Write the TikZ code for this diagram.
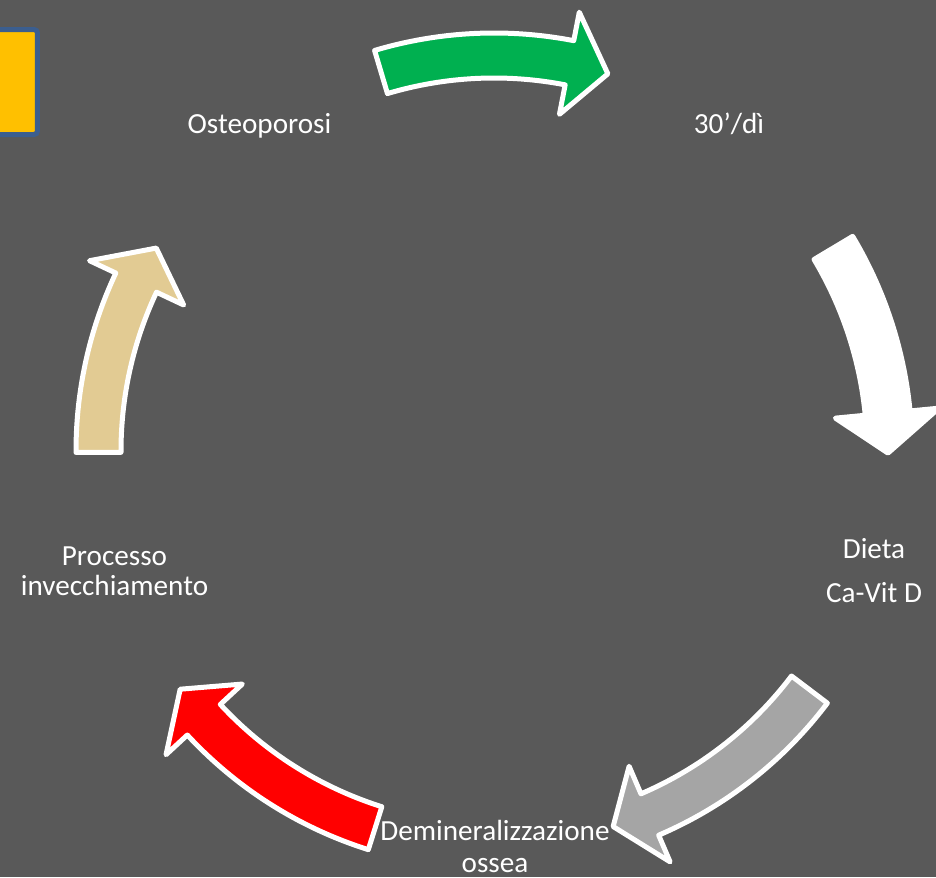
\documentclass[tikz,border=0pt]{standalone}
\usepackage{fontspec}
\setmainfont{Carlito}
\usetikzlibrary{calc}
\definecolor{slide}{HTML}{595959}
\definecolor{boxyellow}{HTML}{FFC000}
\definecolor{boxblue}{HTML}{3B5E8F}
\definecolor{arrgreen}{HTML}{00B050}
\definecolor{arrgray}{HTML}{A5A5A5}
\definecolor{arrred}{HTML}{FF0000}
\definecolor{arrtan}{HTML}{E2CB93}
\def\cyclearrow[#1](#2:#3:#4){\draw[#1] (#2:373) arc[start angle=#2, end angle=#3, radius=373] -- (#3:343) -- (#4:394) -- (#3:447) -- (#3:418) arc[start angle=#3, end angle=#2, radius=418] -- cycle;}
\tikzset{
	cyc/.style={draw=white, line width=0.1cm, line join=round},
	lbl/.style={text=white, align=center, inner sep=0pt, anchor=base, font=\fontsize{16.6}{17}\selectfont}
}

\begin{document}
\begin{tikzpicture}[x=0.02cm, y=0.02cm]
			%%%%% START %%%%%
			
			\fill[slide] (-494, 451) rectangle (442, -426);
			\useasboundingbox (-494, 451) rectangle (442, -426);
			
			\draw[fill=boxyellow, draw=boxblue, line width=0.1cm, rounded corners=2] (-504, 421.5) rectangle (-456.5, 316.5);
			
			\node[lbl] (osteo) at (-234.5, 318) {Osteoporosi};
			\node[lbl] (trenta) at (235, 318) {30’/dì};
			\node[lbl] (dieta) at (380, -151) {Dieta\\[8pt]Ca-Vit D};
			\node[lbl] (demin) at (1, -421) {Demineralizzazione\\[1pt]ossea};
			\node[lbl] (processo) at (-379.5, -144) {Processo\\invecchiamento};
			
			\cyclearrow[cyc, fill=arrgreen](106.6:79:73.2);
			\cyclearrow[cyc, fill=white](30.9:5.5:-0.3);
			\cyclearrow[cyc, fill=arrgray](-37.1:-66.8:-72.4);
			\cyclearrow[cyc, fill=arrred](-107.5:-137.2:-142.8);
			\cyclearrow[cyc, fill=arrtan](180.2:154.8:149);
			
			%%%%% END %%%%%
		\end{tikzpicture}
\end{document}
